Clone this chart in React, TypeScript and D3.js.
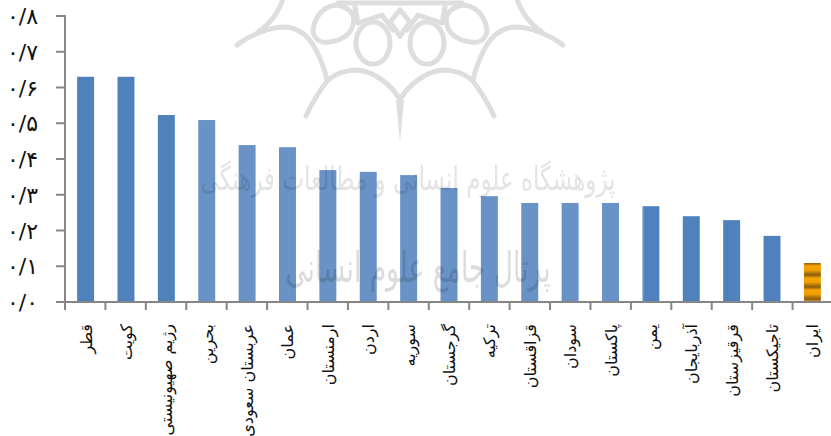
import React, { useRef, useEffect } from "react";
import * as d3 from "d3";

// کشورها و مقادیر
const countries = [
  "قطر", "کویت", "رژیم صهیونیستی", "بحرین", "عربستان سعودی", "عمان",
  "ارمنستان", "اردن", "سوریه", "گرجستان", "ترکیه", "قزاقستان",
  "سودان", "پاکستان", "یمن", "آذربایجان", "قرقیزستان", "تاجیکستان", "ایران",
];
const values = [
  0.63, 0.63, 0.523, 0.509, 0.439, 0.433, 0.369, 0.364, 0.355, 0.319,
  0.296, 0.277, 0.277, 0.277, 0.268, 0.24, 0.229, 0.185, 0.109,
];
const yTicks = [0, 0.1, 0.2, 0.3, 0.4, 0.5, 0.6, 0.7, 0.8];
const highlight = "ایران";

const watermarkTop = "پژوهشگاه علوم انسانی و مطالعات فرهنگی";
const watermarkBottom = "پرتال جامع علوم انسانی";

const faDigits = (n: number) =>
  n.toFixed(1).replace(".", "/").replace(/\d/g, (d) => "۰۱۲۳۴۵۶۷۸۹"[+d]);

// نیمه چپ نشان پس زمینه
const logoHalf = [
  "M400 100 C392 85 375 72 358 70 C345 70 335 74 328 80 C320 90 312 103 306 116",
  "M237 45 C250 35 270 27 285 27 C300 28 310 38 316 50 C321 60 325 70 327 80",
  "M283 -2 C280 10 272 22 258 32",
  "M313 30 C315 15 325 5 338 5 C350 8 356 15 353 25 C350 38 335 43 322 42 C316 40 313 35 313 30 Z",
  "M356 43 a17 21 0 1 0 34 0 a17 21 0 1 0 -34 0",
  "M338 3 L400 3",
  "M355 7 L358 23 L382 15 L393 30",
  "M390 22 L400 10",
  "M390 22 L400 36",
];
const logoSpike = "M396 100 L400 142 L404 100 Z";

export default function App() {
  const svgRef = useRef<SVGSVGElement>(null);

  useEffect(() => {
    const svg = d3.select(svgRef.current);
    svg.selectAll("*").remove();

    const left = 65;
    const right = 833;
    const top = 16;
    const bottom = 302;

    const x = d3.scaleBand().domain(countries).range([left, right]).paddingInner(0.58).paddingOuter(0.3);
    const tickX = d3.scaleLinear().domain([0, countries.length]).range([left, right]);
    const y = d3.scaleLinear().domain([0, 0.8]).range([bottom, top]);

    const defs = svg.append("defs");
    const grad = defs
      .append("linearGradient")
      .attr("id", "iranFill")
      .attr("gradientUnits", "userSpaceOnUse")
      .attr("x1", 0)
      .attr("x2", 0)
      .attr("y1", 266)
      .attr("y2", 278)
      .attr("spreadMethod", "repeat");
    grad.append("stop").attr("offset", "0%").attr("stop-color", "#f5a300");
    grad.append("stop").attr("offset", "35%").attr("stop-color", "#f0a000");
    grad.append("stop").attr("offset", "75%").attr("stop-color", "#8a5c10");
    grad.append("stop").attr("offset", "100%").attr("stop-color", "#f5a300");
    defs
      .append("filter")
      .attr("id", "soft")
      .append("feGaussianBlur")
      .attr("stdDeviation", 0.7);

    // میله ها
    svg
      .append("g")
      .selectAll("rect")
      .data(countries)
      .enter()
      .append("rect")
      .attr("x", (d) => x(d)!)
      .attr("y", (d, i) => y(values[i]))
      .attr("width", x.bandwidth())
      .attr("height", (d, i) => bottom - y(values[i]))
      .attr("fill", (d) => (d === highlight ? "url(#iranFill)" : "#4f81bd"));

    // لایه روشن پشت نشان
    svg
      .append("rect")
      .attr("x", 193)
      .attr("y", 0)
      .attr("width", 451)
      .attr("height", 312)
      .attr("fill", "#fff")
      .attr("opacity", 0.15);

    // محورها
    const axisColor = "#868686";
    const axis = svg.append("g").attr("stroke", axisColor).attr("stroke-width", 2).attr("fill", "none");
    axis.append("line").attr("x1", left).attr("x2", left).attr("y1", top - 1).attr("y2", bottom + 1);
    axis.append("line").attr("x1", left).attr("x2", 831).attr("y1", bottom).attr("y2", bottom);
    axis
      .selectAll(".ty")
      .data(yTicks)
      .enter()
      .append("line")
      .attr("x1", left - 9)
      .attr("x2", left)
      .attr("y1", (d) => y(d))
      .attr("y2", (d) => y(d));
    axis
      .selectAll(".tx")
      .data(d3.range(countries.length))
      .enter()
      .append("line")
      .attr("x1", (d) => tickX(d))
      .attr("x2", (d) => tickX(d))
      .attr("y1", bottom)
      .attr("y2", bottom + 8);

    // برچسب های محور عمودی
    svg
      .append("g")
      .selectAll("text")
      .data(yTicks)
      .enter()
      .append("text")
      .attr("x", 38)
      .attr("y", (d) => y(d) + 8)
      .attr("text-anchor", "end")
      .attr("direction", "ltr")
      .attr("font-family", "DejaVu Sans")
      .attr("font-size", 22)
      .attr("letter-spacing", 2)
      .attr("fill", "#111")
      .text((d) => faDigits(d));

    // برچسب های محور افقی
    svg
      .append("g")
      .selectAll("text")
      .data(countries)
      .enter()
      .append("text")
      .attr("transform", (d) => `translate(${x(d)! + x.bandwidth() / 2 + 6},324) rotate(-90)`)
      .attr("text-anchor", "start")
      .attr("direction", "rtl")
      .attr("font-family", "DejaVu Sans")
      .attr("font-size", 16)
      .attr("fill", "#111")
      .text((d) => d);

    // نشان و متن پس زمینه
    const mark = svg.append("g").style("mix-blend-mode", "multiply").attr("filter", "url(#soft)");
    const logo = mark
      .append("g")
      .attr("fill", "none")
      .attr("stroke", "#dedede")
      .attr("stroke-width", 5)
      .attr("stroke-linecap", "round")
      .attr("stroke-linejoin", "round");
    [1, -1].forEach((side) => {
      const half = logo.append("g").attr("transform", side === 1 ? "" : "translate(800,0) scale(-1,1)");
      logoHalf.forEach((p) => half.append("path").attr("d", p));
    });
    logo.append("path").attr("d", logoSpike).attr("fill", "#dedede").attr("stroke", "none");

    mark
      .append("text")
      .attr("x", 408)
      .attr("y", 190)
      .attr("text-anchor", "middle")
      .attr("direction", "rtl")
      .attr("font-family", "DejaVu Sans")
      .attr("font-size", 33)
      .attr("fill", "#e4e4e4")
      .attr("textLength", 415)
      .attr("lengthAdjust", "spacingAndGlyphs")
      .text(watermarkTop);
    mark
      .append("text")
      .attr("x", 418)
      .attr("y", 282)
      .attr("text-anchor", "middle")
      .attr("direction", "rtl")
      .attr("font-family", "DejaVu Sans")
      .attr("font-size", 42)
      .attr("fill", "#dcdcdc")
      .attr("textLength", 265)
      .attr("lengthAdjust", "spacingAndGlyphs")
      .text(watermarkBottom);
  }, []);

  return (
    <svg
      ref={svgRef}
      width={831}
      height={436}
      style={{ position: "fixed", left: 0, top: 0, background: "#fff" }}
    />
  );
}
